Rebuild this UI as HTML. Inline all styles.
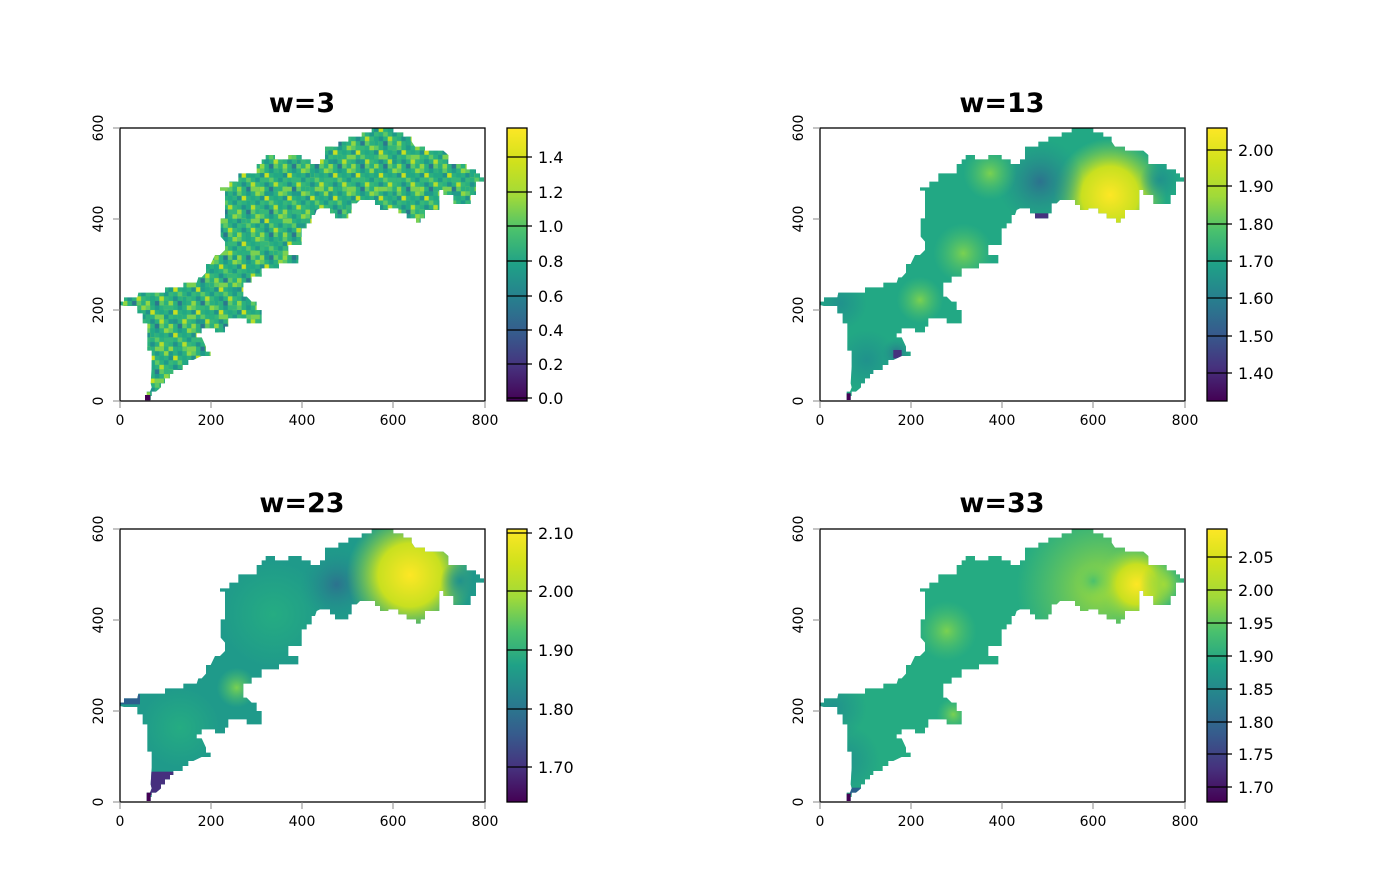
<!DOCTYPE html>
<html><head><meta charset="utf-8"><style>
body{margin:0;background:#fff;}
svg text{font-family:"DejaVu Sans","Liberation Sans",sans-serif;}
</style></head><body>
<svg width="1400" height="866" viewBox="0 0 1400 866" xmlns="http://www.w3.org/2000/svg">
<defs>
<polygon id="shp" points="815,85 880,85 880,97 910,97 910,110 935,110 935,125 945,140 975,140 975,152 1030,152 1045,165 1045,192 1100,192 1100,208 1128,208 1128,220 1140,220 1140,232 1152,232 1152,245 1128,245 1128,285 1112,285 1112,312 1060,312 1060,285 1030,285 1030,270 1018,270 1018,330 975,330 975,355 962,355 962,368 948,368 948,355 920,355 920,340 895,340 895,325 865,325 865,330 840,330 840,315 825,315 825,300 780,300 770,310 755,310 755,340 745,340 745,355 705,355 705,340 690,340 690,325 660,325 650,330 645,345 635,345 635,370 620,370 620,385 605,385 605,435 565,435 565,465 595,465 595,490 537,490 537,505 485,505 485,530 455,530 455,548 430,548 430,590 440,590 455,605 470,605 470,630 485,630 485,670 440,670 440,655 385,655 385,680 375,680 375,697 345,697 345,685 305,685 305,700 290,700 290,712 305,712 318,740 318,755 332,755 332,768 305,768 280,780 265,780 265,795 248,795 248,810 220,810 220,822 210,822 210,835 195,835 195,850 183,850 183,862 168,875 155,875 155,888 152,888 152,900 140,900 140,875 150,875 155,862 152,850 155,800 155,752 142,752 142,670 128,670 128,640 112,640 112,618 72,618 60,615 60,605 72,605 72,592 112,592 115,578 195,578 195,562 250,562 250,548 290,548 295,532 305,532 318,518 318,492 332,492 345,465 360,465 375,450 375,425 362,410 362,355 375,355 375,272 360,272 360,262 388,262 388,245 415,245 415,220 470,220 470,192 485,192 485,178 497,178 497,165 525,165 525,178 565,178 565,165 605,165 605,178 632,178 632,192 660,192 660,178 675,178 675,140 715,140 715,125 745,125 745,110 785,110 785,97 815,97"/>
<clipPath id="cp"><use href="#shp"/></clipPath>
<pattern id="noise" patternUnits="userSpaceOnUse" width="68.5" height="68.5">
<rect x="0" y="0" width="68.5" height="68.5" fill="#2ab07f"/>
<rect x="0" y="0" width="13.7" height="13.7" fill="#5ec962"/><rect x="27.4" y="0" width="13.7" height="13.7" fill="#1f9a8a"/><rect x="54.8" y="0" width="13.7" height="13.7" fill="#90d743"/>
<rect x="13.7" y="13.7" width="13.7" height="13.7" fill="#c8e020"/><rect x="41.1" y="13.7" width="13.7" height="13.7" fill="#22a884"/><rect x="0" y="13.7" width="13.7" height="13.7" fill="#21918c"/>
<rect x="27.4" y="27.4" width="13.7" height="13.7" fill="#5ec962"/><rect x="54.8" y="27.4" width="13.7" height="13.7" fill="#1f9a8a"/><rect x="0" y="27.4" width="13.7" height="13.7" fill="#35b779"/>
<rect x="13.7" y="41.1" width="13.7" height="13.7" fill="#21918c"/><rect x="41.1" y="41.1" width="13.7" height="13.7" fill="#b5de2b"/><rect x="54.8" y="41.1" width="13.7" height="13.7" fill="#35b779"/>
<rect x="0" y="54.8" width="13.7" height="13.7" fill="#90d743"/><rect x="27.4" y="54.8" width="13.7" height="13.7" fill="#2a788e"/><rect x="41.1" y="54.8" width="13.7" height="13.7" fill="#5ec962"/>
</pattern>
<pattern id="noise2" patternUnits="userSpaceOnUse" width="95.9" height="95.9">
<rect x="0" y="41.1" width="27.4" height="13.7" fill="#35b779"/><rect x="54.8" y="13.7" width="13.7" height="27.4" fill="#22a884"/>
<rect x="68.5" y="68.5" width="27.4" height="13.7" fill="#7ad151"/><rect x="13.7" y="82.2" width="13.7" height="13.7" fill="#1f9a8a"/>
<rect x="41.1" y="68.5" width="13.7" height="13.7" fill="#2ab07f"/>
</pattern>
<radialGradient id="yel"><stop offset="0" stop-color="#fde725"/><stop offset="0.5" stop-color="#c8e020"/><stop offset="1" stop-color="#7ad151" stop-opacity="0"/></radialGradient>
<radialGradient id="yg"><stop offset="0" stop-color="#a0da39"/><stop offset="1" stop-color="#7ad151" stop-opacity="0"/></radialGradient>
<radialGradient id="lg"><stop offset="0" stop-color="#7ad151"/><stop offset="1" stop-color="#4ac16d" stop-opacity="0"/></radialGradient>
<radialGradient id="db"><stop offset="0" stop-color="#2c728e"/><stop offset="1" stop-color="#21918c" stop-opacity="0"/></radialGradient>
<radialGradient id="tl"><stop offset="0" stop-color="#20928c"/><stop offset="1" stop-color="#20928c" stop-opacity="0"/></radialGradient>
<radialGradient id="gr"><stop offset="0" stop-color="#25ac82"/><stop offset="1" stop-color="#25ac82" stop-opacity="0"/></radialGradient>
<radialGradient id="mg"><stop offset="0" stop-color="#4ac16d"/><stop offset="1" stop-color="#7ad151" stop-opacity="0"/></radialGradient>
<linearGradient id="vir" x1="0" y1="1" x2="0" y2="0">
<stop offset="0" stop-color="#440154"/><stop offset="0.125" stop-color="#46327e"/><stop offset="0.25" stop-color="#365c8d"/><stop offset="0.375" stop-color="#277f8e"/><stop offset="0.5" stop-color="#1fa187"/><stop offset="0.625" stop-color="#4ac16d"/><stop offset="0.75" stop-color="#a0da39"/><stop offset="0.875" stop-color="#d0e11c"/><stop offset="1" stop-color="#fde725"/>
</linearGradient>
</defs>

<!-- panel 1 -->
<g transform="translate(100,100) scale(0.33333)">
<use href="#shp" fill="url(#noise)"/>
<use href="#shp" fill="url(#noise2)"/>
<rect x="135" y="885" width="16" height="16" fill="#440154"/>
</g>
<!-- panel 2 -->
<g transform="translate(800,100) scale(0.33333)">
<use href="#shp" fill="#22a884"/>
<g clip-path="url(#cp)">
<circle cx="930" cy="285" r="170" fill="url(#yel)"/>
<circle cx="720" cy="245" r="130" fill="url(#db)"/>
<circle cx="490" cy="460" r="90" fill="url(#lg)"/>
<circle cx="570" cy="220" r="80" fill="url(#lg)"/>
<circle cx="360" cy="600" r="70" fill="url(#lg)"/>
<circle cx="1080" cy="240" r="60" fill="url(#tl)"/>
<circle cx="290" cy="760" r="45" fill="url(#db)"/>
<circle cx="120" cy="610" r="80" fill="url(#tl)"/>
<circle cx="200" cy="780" r="90" fill="url(#tl)"/>
<rect x="700" y="340" width="45" height="20" fill="#46327e"/>
<rect x="280" y="750" width="25" height="25" fill="#46327e"/>
</g>
<rect x="140" y="880" width="12" height="20" fill="#440154"/>
</g>
<!-- panel 3 -->
<g transform="translate(100,501) scale(0.33333)">
<use href="#shp" fill="#1f9a8a"/>
<g clip-path="url(#cp)">
<circle cx="520" cy="340" r="160" fill="url(#gr)"/>
<circle cx="240" cy="680" r="120" fill="url(#gr)"/>
<circle cx="410" cy="560" r="60" fill="url(#lg)"/>
<circle cx="710" cy="250" r="110" fill="url(#db)"/>
<circle cx="930" cy="222" r="190" fill="url(#yel)"/>
<circle cx="1080" cy="240" r="60" fill="url(#tl)"/>
<rect x="150" y="812" width="75" height="70" fill="#46307e"/>
<rect x="60" y="580" width="60" height="30" fill="#2c5f8d"/>
</g>
<rect x="140" y="875" width="12" height="25" fill="#440154"/>
</g>
<!-- panel 4 -->
<g transform="translate(800,501) scale(0.33333)">
<use href="#shp" fill="#25ab82"/>
<g clip-path="url(#cp)">
<circle cx="130" cy="780" r="110" fill="url(#tl)"/>
<circle cx="100" cy="620" r="100" fill="url(#tl)"/>
<circle cx="440" cy="390" r="90" fill="url(#lg)"/>
<circle cx="460" cy="640" r="50" fill="url(#lg)"/>
<circle cx="900" cy="260" r="250" fill="url(#yg)"/>
<circle cx="1010" cy="250" r="120" fill="url(#yel)"/>
<circle cx="1090" cy="250" r="70" fill="url(#yg)"/>
<circle cx="880" cy="240" r="60" fill="url(#mg)"/>
<rect x="150" y="860" width="35" height="20" fill="#2c5f8d"/>
</g>
<rect x="140" y="878" width="12" height="22" fill="#440154"/>
</g>

<!-- axes & frames -->
<g stroke="#000" stroke-width="1.3" fill="none">
<rect x="120" y="128" width="365" height="273"/>
<rect x="820" y="128" width="365" height="273"/>
<rect x="120" y="529" width="365" height="273"/>
<rect x="820" y="529" width="365" height="273"/>
</g>
<g stroke="#888" stroke-width="1">
<path d="M120,401v7M211,401v7M302,401v7M393,401v7M485,401v7M113,401h7M113,310h7M113,219h7M113,128h7"/>
<path d="M820,401v7M911,401v7M1002,401v7M1093,401v7M1185,401v7M813,401h7M813,310h7M813,219h7M813,128h7"/>
<path d="M120,802v7M211,802v7M302,802v7M393,802v7M485,802v7M113,802h7M113,711h7M113,620h7M113,529h7"/>
<path d="M820,802v7M911,802v7M1002,802v7M1093,802v7M1185,802v7M813,802h7M813,711h7M813,620h7M813,529h7"/>
</g>
<g font-size="14" text-anchor="middle" fill="#000">
<text x="120" y="425">0</text><text x="211" y="425">200</text><text x="302" y="425">400</text><text x="393" y="425">600</text><text x="485" y="425">800</text>
<text x="820" y="425">0</text><text x="911" y="425">200</text><text x="1002" y="425">400</text><text x="1093" y="425">600</text><text x="1185" y="425">800</text>
<text x="120" y="826">0</text><text x="211" y="826">200</text><text x="302" y="826">400</text><text x="393" y="826">600</text><text x="485" y="826">800</text>
<text x="820" y="826">0</text><text x="911" y="826">200</text><text x="1002" y="826">400</text><text x="1093" y="826">600</text><text x="1185" y="826">800</text>
<text transform="translate(103,401) rotate(-90)">0</text><text transform="translate(103,310) rotate(-90)">200</text><text transform="translate(103,219) rotate(-90)">400</text><text transform="translate(103,128) rotate(-90)">600</text>
<text transform="translate(803,401) rotate(-90)">0</text><text transform="translate(803,310) rotate(-90)">200</text><text transform="translate(803,219) rotate(-90)">400</text><text transform="translate(803,128) rotate(-90)">600</text>
<text transform="translate(103,802) rotate(-90)">0</text><text transform="translate(103,711) rotate(-90)">200</text><text transform="translate(103,620) rotate(-90)">400</text><text transform="translate(103,529) rotate(-90)">600</text>
<text transform="translate(803,802) rotate(-90)">0</text><text transform="translate(803,711) rotate(-90)">200</text><text transform="translate(803,620) rotate(-90)">400</text><text transform="translate(803,529) rotate(-90)">600</text>
</g>
<g font-size="27" font-weight="bold" text-anchor="middle">
<text x="302" y="112">w=3</text><text x="1002" y="112">w=13</text>
<text x="302" y="512">w=23</text><text x="1002" y="512">w=33</text>
</g>

<!-- colorbars -->
<g stroke="#000" stroke-width="1.3">
<rect x="507" y="128" width="20" height="273" fill="url(#vir)"/>
<rect x="1207" y="128" width="20" height="273" fill="url(#vir)"/>
<rect x="507" y="529" width="20" height="273" fill="url(#vir)"/>
<rect x="1207" y="529" width="20" height="273" fill="url(#vir)"/>
<path d="M507,398h25M507,364h25M507,330h25M507,296h25M507,261h25M507,226h25M507,192h25M507,157h25"/>
<path d="M1207,373h25M1207,336h25M1207,298h25M1207,261h25M1207,224h25M1207,186h25M1207,150h25"/>
<path d="M507,767h25M507,709h25M507,650h25M507,591h25M507,533h25"/>
<path d="M1207,787h25M1207,754h25M1207,722h25M1207,689h25M1207,656h25M1207,623h25M1207,590h25M1207,557h25"/>
</g>
<g font-size="16" fill="#000">
<text x="538" y="404">0.0</text><text x="538" y="370">0.2</text><text x="538" y="336">0.4</text><text x="538" y="302">0.6</text><text x="538" y="267">0.8</text><text x="538" y="232">1.0</text><text x="538" y="198">1.2</text><text x="538" y="163">1.4</text>
<text x="1238" y="379">1.40</text><text x="1238" y="342">1.50</text><text x="1238" y="304">1.60</text><text x="1238" y="267">1.70</text><text x="1238" y="230">1.80</text><text x="1238" y="192">1.90</text><text x="1238" y="156">2.00</text>
<text x="538" y="773">1.70</text><text x="538" y="715">1.80</text><text x="538" y="656">1.90</text><text x="538" y="597">2.00</text><text x="538" y="539">2.10</text>
<text x="1238" y="793">1.70</text><text x="1238" y="760">1.75</text><text x="1238" y="728">1.80</text><text x="1238" y="695">1.85</text><text x="1238" y="662">1.90</text><text x="1238" y="629">1.95</text><text x="1238" y="596">2.00</text><text x="1238" y="563">2.05</text>
</g>
</svg>
</body></html>
